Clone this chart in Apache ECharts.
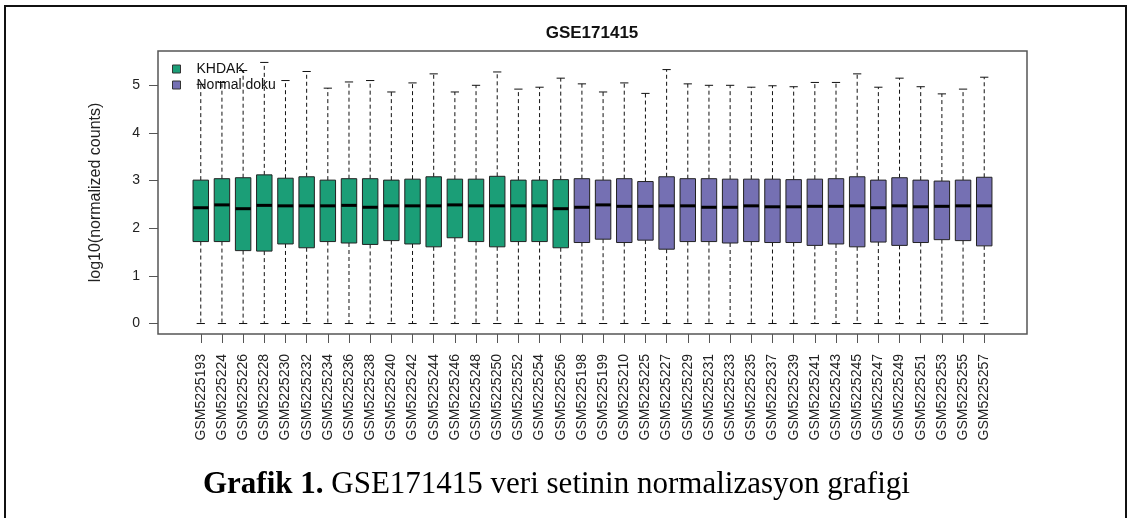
<!DOCTYPE html>
<html>
<head>
<meta charset="utf-8">
<script src="https://cdn.jsdelivr.net/npm/echarts@6/dist/echarts.min.js"></script>
<style>
  html, body { margin: 0; padding: 0; background: #fff; }
  #chart { width: 1129px; height: 518px; }
</style>
</head>
<body>
<div id="chart"></div>
<script>
// Sample names, in plotting order
const khdakSamples = ['GSM5225193','GSM5225224','GSM5225226','GSM5225228','GSM5225230','GSM5225232',
  'GSM5225234','GSM5225236','GSM5225238','GSM5225240','GSM5225242','GSM5225244','GSM5225246',
  'GSM5225248','GSM5225250','GSM5225252','GSM5225254','GSM5225256'];
const normalSamples = ['GSM5225198','GSM5225199','GSM5225210','GSM5225225','GSM5225227','GSM5225229',
  'GSM5225231','GSM5225233','GSM5225235','GSM5225237','GSM5225239','GSM5225241','GSM5225243',
  'GSM5225245','GSM5225247','GSM5225249','GSM5225251','GSM5225253','GSM5225255','GSM5225257'];

// Boxplot statistics of log10(normalized counts) — KHDAK
const khdakMin    = [0,0,0,0,0,0,0,0,0,0,0,0,0,0,0,0,0,0];
const khdakQ1     = [1.72,1.72,1.53,1.52,1.67,1.59,1.72,1.69,1.66,1.74,1.67,1.61,1.80,1.72,1.61,1.72,1.72,1.59];
const khdakMedian = [2.43,2.49,2.41,2.48,2.47,2.47,2.47,2.48,2.44,2.47,2.47,2.47,2.49,2.47,2.47,2.47,2.47,2.41];
const khdakQ3     = [3.01,3.04,3.06,3.12,3.05,3.08,3.01,3.04,3.04,3.01,3.03,3.08,3.03,3.03,3.09,3.01,3.01,3.02];
const khdakMax    = [5.02,5.06,5.31,5.48,5.10,5.29,4.94,5.07,5.10,4.86,5.05,5.24,4.86,5.00,5.28,4.92,4.96,5.15];

// Boxplot statistics — Normal doku
const normalMin    = [0,0,0,0,0,0,0,0,0,0,0,0,0,0,0,0,0,0,0,0];
const normalQ1     = [1.70,1.77,1.70,1.75,1.56,1.72,1.72,1.69,1.72,1.70,1.70,1.64,1.67,1.61,1.71,1.64,1.70,1.76,1.74,1.63];
const normalMedian = [2.44,2.49,2.46,2.46,2.47,2.47,2.44,2.44,2.47,2.45,2.45,2.46,2.46,2.47,2.43,2.47,2.45,2.46,2.47,2.47];
const normalQ3     = [3.04,3.01,3.04,2.98,3.08,3.04,3.04,3.03,3.03,3.03,3.02,3.03,3.04,3.08,3.01,3.06,3.01,2.99,3.01,3.07];
const normalMax    = [5.03,4.86,5.05,4.83,5.33,5.03,5.00,5.00,4.96,4.99,4.97,5.06,5.06,5.24,4.96,5.15,4.97,4.82,4.92,5.17];

const yTicks = [0, 1, 2, 3, 4, 5];

const groupNames = ['KHDAK', 'Normal doku'];
const groupColors = ['#1B9E77', '#7570B3'];

const allSamples = khdakSamples.concat(normalSamples);
const xPositions = allSamples.map((_, i) => i + 1);

function buildRows(offset, mins, q1, med, q3, maxs) {
  return mins.map((m, i) => [offset + i + 1, m, q1[i], med[i], q3[i], maxs[i]]);
}
const khdakRows = buildRows(0, khdakMin, khdakQ1, khdakMedian, khdakQ3, khdakMax);
const normalRows = buildRows(khdakSamples.length, normalMin, normalQ1, normalMedian, normalQ3, normalMax);

const BOX_WIDTH = 0.73;   // in x units
const CAP_WIDTH = 0.39;
const FONT = '"Liberation Sans", Arial, Helvetica, sans-serif';
const SERIF = '"Liberation Serif", "Times New Roman", serif';

function renderBox(fill) {
  return function (params, api) {
    const x = api.value(0);
    const pMin = api.coord([x, api.value(1)]);
    const pQ1 = api.coord([x, api.value(2)]);
    const pMed = api.coord([x, api.value(3)]);
    const pQ3 = api.coord([x, api.value(4)]);
    const pMax = api.coord([x, api.value(5)]);
    const bw = api.size([BOX_WIDTH, 0])[0];
    const cw = api.size([CAP_WIDTH, 0])[0];
    const cx = pMed[0];
    const dash = { stroke: '#111', lineWidth: 1, lineDash: [4, 3] };
    const solid = { stroke: '#111', lineWidth: 1 };
    return {
      type: 'group',
      children: [
        { type: 'line', shape: { x1: cx, y1: pQ3[1], x2: cx, y2: pMax[1] }, style: dash },
        { type: 'line', shape: { x1: cx, y1: pQ1[1], x2: cx, y2: pMin[1] }, style: dash },
        { type: 'line', shape: { x1: cx - cw / 2, y1: pMax[1], x2: cx + cw / 2, y2: pMax[1] }, style: solid },
        { type: 'line', shape: { x1: cx - cw / 2, y1: pMin[1], x2: cx + cw / 2, y2: pMin[1] }, style: solid },
        { type: 'rect', shape: { x: cx - bw / 2, y: pQ3[1], width: bw, height: pQ1[1] - pQ3[1] },
          style: { fill: fill, stroke: '#222', lineWidth: 1 } },
        { type: 'line', shape: { x1: cx - bw / 2, y1: pMed[1], x2: cx + bw / 2, y2: pMed[1] },
          style: { stroke: '#000', lineWidth: 3 } }
      ]
    };
  };
}

const chart = echarts.init(document.getElementById('chart'), null, { renderer: 'canvas' });

chart.setOption({
  backgroundColor: '#fff',
  animation: false,
  title: [
    {
      text: 'GSE171415',
      left: 592, top: 25, textAlign: 'center', padding: 0,
      textStyle: { fontFamily: FONT, fontSize: 17, fontWeight: 'bold', color: '#111' }
    },
    {
      text: '{b|Grafik 1.} GSE171415 veri setinin normalizasyon grafigi',
      left: 203, top: 469, padding: 0,
      textStyle: {
        fontFamily: SERIF, fontSize: 31, fontWeight: 'normal', color: '#000',
        rich: { b: { fontFamily: SERIF, fontSize: 31, fontWeight: 'bold', color: '#000' } }
      }
    }
  ],
  legend: {
    orient: 'vertical', left: 172, top: 62, padding: 0, itemGap: 2,
    itemWidth: 8, itemHeight: 8, icon: 'rect',
    textStyle: { fontFamily: FONT, fontSize: 14, color: '#111', padding: [0, 0, 0, 11] },
    data: groupNames.map((n, i) => ({ name: n, itemStyle: { color: groupColors[i], borderColor: '#333', borderWidth: 1 } }))
  },
  grid: {
    left: 158, top: 51, width: 869, height: 283,
    show: true, borderColor: '#555', borderWidth: 1.5, backgroundColor: 'transparent'
  },
  xAxis: {
    type: 'value', min: -1.02, max: 40.02,
    splitLine: { show: false },
    axisLine: { show: false, onZero: false },
    axisTick: { show: true, length: 9, customValues: xPositions, lineStyle: { color: '#555' } },
    axisLabel: {
      customValues: xPositions, rotate: 90, margin: 20,
      fontFamily: FONT, fontSize: 14, color: '#222',
      formatter: v => allSamples[Math.round(v) - 1] || ''
    }
  },
  yAxis: {
    type: 'value', min: -0.22, max: 5.72,
    name: 'log10(normalized counts)', nameLocation: 'middle', nameGap: 54, nameRotate: 90,
    nameTextStyle: { fontFamily: FONT, fontSize: 16, color: '#222' },
    splitLine: { show: false },
    axisLine: { show: false, onZero: false },
    axisTick: { show: true, length: 9, customValues: yTicks, lineStyle: { color: '#555' } },
    axisLabel: { customValues: yTicks, margin: 18, fontFamily: FONT, fontSize: 14, color: '#222' }
  },
  graphic: [
    { type: 'rect', silent: true, z: 100,
      shape: { x: 5, y: 6, width: 1121, height: 540 },
      style: { fill: 'none', stroke: '#111', lineWidth: 2 } }
  ],
  series: [
    {
      name: groupNames[0], type: 'custom', renderItem: renderBox(groupColors[0]),
      itemStyle: { color: groupColors[0] },
      encode: { x: 0, y: [1, 2, 3, 4, 5] },
      data: khdakRows, clip: false
    },
    {
      name: groupNames[1], type: 'custom', renderItem: renderBox(groupColors[1]),
      itemStyle: { color: groupColors[1] },
      encode: { x: 0, y: [1, 2, 3, 4, 5] },
      data: normalRows, clip: false
    }
  ]
});
</script>
</body>
</html>
